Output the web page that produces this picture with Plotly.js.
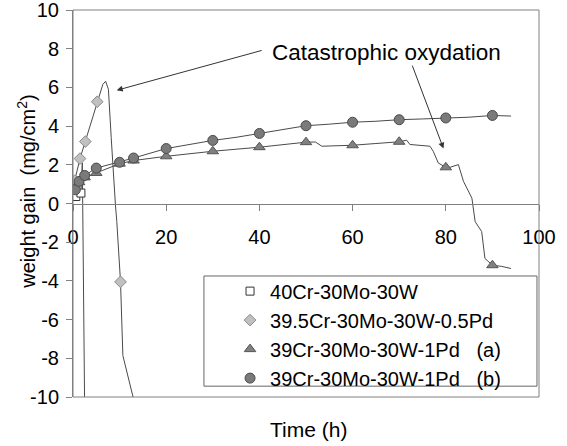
<!DOCTYPE html>
<html>
<head>
<meta charset="utf-8">
<script src="https://cdn.plot.ly/plotly-2.35.2.min.js"></script>
<style>html,body{margin:0;padding:0;background:#fff;}</style>
</head>
<body>
<div id="chart" style="width:567px;height:446px;"></div>
<script>
// ---- data (time in h, weight gain in mg/cm2) ----
var seriesNames = ["40Cr-30Mo-30W", "39.5Cr-30Mo-30W-0.5Pd", "39Cr-30Mo-30W-1Pd\u00A0\u00A0\u00A0(a)", "39Cr-30Mo-30W-1Pd\u00A0\u00A0\u00A0(b)"];

// 40Cr-30Mo-30W
var sqLineT = [0.3, 0.6, 1.7, 2.0, 2.5];
var sqLineG = [0.25, 0.36, 0.54, 2.1, -10.6];
var sqMarkT = [0.6, 1.7];
var sqMarkG = [0.36, 0.54];

// 39.5Cr-30Mo-30W-0.5Pd
var diLineT = [0.1, 0.36, 1.5, 2.65, 5.2, 6.4, 7.0, 7.6, 8.2, 8.7, 9.1, 9.4, 10.2, 10.7, 13.0, 13.4];
var diLineG = [0.5, 1.18, 2.32, 3.2, 5.26, 6.15, 6.32, 5.9, 3.4, 1.14, -0.05, -0.94, -4.05, -7.86, -10.1, -10.5];
var diMarkT = [0.36, 1.5, 2.65, 5.2, 10.2];
var diMarkG = [1.18, 2.32, 3.2, 5.26, -4.05];

// 39Cr-30Mo-30W-1Pd (a)
var trLineT = [0.3, 0.5, 1.3, 2.5, 5, 10, 13, 20, 30, 40, 50, 52, 53.4, 55, 60, 65, 70, 71.6, 72.3, 76.6, 77.3, 78.4, 80, 80.9, 82.7, 83.8, 85.6, 86.3, 87.7, 88.4, 90, 92, 94];
var trLineG = [0.5, 0.7, 1.1, 1.35, 1.58, 2.06, 2.22, 2.44, 2.70, 2.91, 3.17, 3.18, 2.96, 2.97, 3.01, 3.1, 3.19, 3.27, 3.05, 2.96, 2.70, 2.09, 1.87, 1.87, 2.01, 1.14, 0.28, -0.94, -1.45, -2.84, -3.19, -3.25, -3.36];
var trMarkT = [1.3, 2.5, 5, 10, 13, 20, 30, 40, 50, 60, 70, 80, 90];
var trMarkG = [1.1, 1.35, 1.58, 2.06, 2.22, 2.44, 2.70, 2.91, 3.17, 3.01, 3.19, 1.87, -3.19];

// 39Cr-30Mo-30W-1Pd (b)
var ciLineT = [0.3, 0.5, 1.3, 2.5, 5, 10, 13, 20, 25, 30, 35, 40, 45, 50, 55, 60, 65, 70, 75, 80, 85, 90, 94];
var ciLineG = [0.5, 0.71, 1.14, 1.45, 1.83, 2.13, 2.35, 2.84, 3.05, 3.26, 3.42, 3.62, 3.8, 4.02, 4.1, 4.2, 4.25, 4.33, 4.37, 4.42, 4.46, 4.55, 4.52];
var ciMarkT = [0.5, 1.3, 2.5, 5, 10, 13, 20, 30, 40, 50, 60, 70, 80, 90];
var ciMarkG = [0.71, 1.14, 1.45, 1.83, 2.13, 2.35, 2.84, 3.26, 3.62, 4.02, 4.2, 4.33, 4.42, 4.55];

var xTicks = [0, 20, 40, 60, 80, 100];
var yTicks = [-10, -8, -6, -4, -2, 0, 2, 4, 6, 8, 10];

// ---- styling ----
var FONT = '"Liberation Sans", Arial, sans-serif';
var lineColor = '#4a4a4a';

function lineTrace(t, g) {
  return {x: t, y: g, mode: 'lines', type: 'scatter', showlegend: false, hoverinfo: 'skip',
          line: {color: lineColor, width: 1}};
}
function markTrace(t, g, name, symbol, fill, edge, size, grp) {
  return {x: t, y: g, mode: 'markers', type: 'scatter', name: name, legendgroup: grp,
          marker: {symbol: symbol, size: size, color: fill, line: {color: edge, width: 1}}};
}

var data = [
  lineTrace(sqLineT, sqLineG),
  lineTrace(diLineT, diLineG),
  lineTrace(trLineT, trLineG),
  lineTrace(ciLineT, ciLineG),
  markTrace(sqMarkT, sqMarkG, seriesNames[0], 'square', '#ffffff', '#333333', 8, 'a'),
  markTrace(diMarkT, diMarkG, seriesNames[1], 'diamond', '#c0c0c0', '#8a8a8a', 9, 'b'),
  markTrace(trMarkT, trMarkG, seriesNames[2], 'triangle-up', '#808080', '#555555', 10, 'c'),
  markTrace(ciMarkT, ciMarkG, seriesNames[3], 'circle', '#7a7a7a', '#4a4a4a', 10, 'd')
];

var layout = {
  width: 567, height: 446,
  margin: {l: 73, r: 28, t: 10, b: 49},
  paper_bgcolor: '#ffffff', plot_bgcolor: '#ffffff',
  font: {family: FONT, color: '#000000', size: 20},
  showlegend: true,
  xaxis: {
    range: [0, 100], tickvals: xTicks, ticktext: xTicks.map(String),
    anchor: 'free', position: 0.5,
    showline: true, linecolor: '#808080', linewidth: 1,
    ticks: 'outside', ticklen: 6, tickcolor: '#808080',
    ticklabelstandoff: 9, ticklabeloverflow: 'allow',
    tickfont: {size: 20, family: FONT},
    showgrid: false, zeroline: false
  },
  yaxis: {
    range: [-10, 10], tickvals: yTicks, ticktext: yTicks.map(String),
    showline: true, linecolor: '#808080', linewidth: 1,
    ticks: 'outside', ticklen: 6, tickcolor: '#808080',
    ticklabelstandoff: 3, ticklabeloverflow: 'allow',
    tickfont: {size: 20, family: FONT},
    showgrid: false, zeroline: false
  },
  legend: {
    x: 0.337, y: 0.324, xanchor: 'left', yanchor: 'top',
    bgcolor: 'rgba(0,0,0,0)', borderwidth: 0,
    font: {size: 20, family: FONT},
    traceorder: 'grouped', tracegroupgap: 0
  },
  shapes: [
    {type: 'rect', xref: 'paper', yref: 'paper', x0: 0, x1: 1, y0: 0, y1: 1,
     line: {color: '#808080', width: 1}, layer: 'above'},
    {type: 'rect', xref: 'paper', yref: 'paper', x0: 0.281, x1: 0.9957, y0: 0.028, y1: 0.3127,
     line: {color: '#666666', width: 1}, fillcolor: '#ffffff', layer: 'above'}
  ],
  annotations: [
    {xref: 'x', yref: 'y', x: 67.3, y: 7.81, text: 'Catastrophic oxydation', showarrow: false,
     font: {size: 22.5, family: FONT}, xanchor: 'center', yanchor: 'middle'},
    {xref: 'x', yref: 'y', x: 9.38, y: 5.85, axref: 'x', ayref: 'y', ax: 40.8, ay: 7.93,
     text: '', showarrow: true, arrowhead: 2, arrowsize: 1.2, arrowwidth: 1, arrowcolor: '#333333'},
    {xref: 'x', yref: 'y', x: 79.5, y: 2.84, axref: 'x', ayref: 'y', ax: 72.7, ay: 7.2,
     text: '', showarrow: true, arrowhead: 2, arrowsize: 1.2, arrowwidth: 1, arrowcolor: '#333333'},
    {xref: 'paper', yref: 'paper', x: 0.506, y: -0.083, text: 'Time (h)', showarrow: false,
     font: {size: 21, family: FONT}, xanchor: 'center', yanchor: 'middle'},
    {xref: 'paper', yref: 'paper', x: -0.099, y: 0.53, text: 'weight gain\u00A0\u00A0(mg/cm<sup>2</sup>)', showarrow: false,
     textangle: -90, font: {size: 20, family: FONT}, xanchor: 'center', yanchor: 'middle'}
  ]
};

Plotly.newPlot('chart', data, layout, {displayModeBar: false, staticPlot: true});
</script>
</body>
</html>
